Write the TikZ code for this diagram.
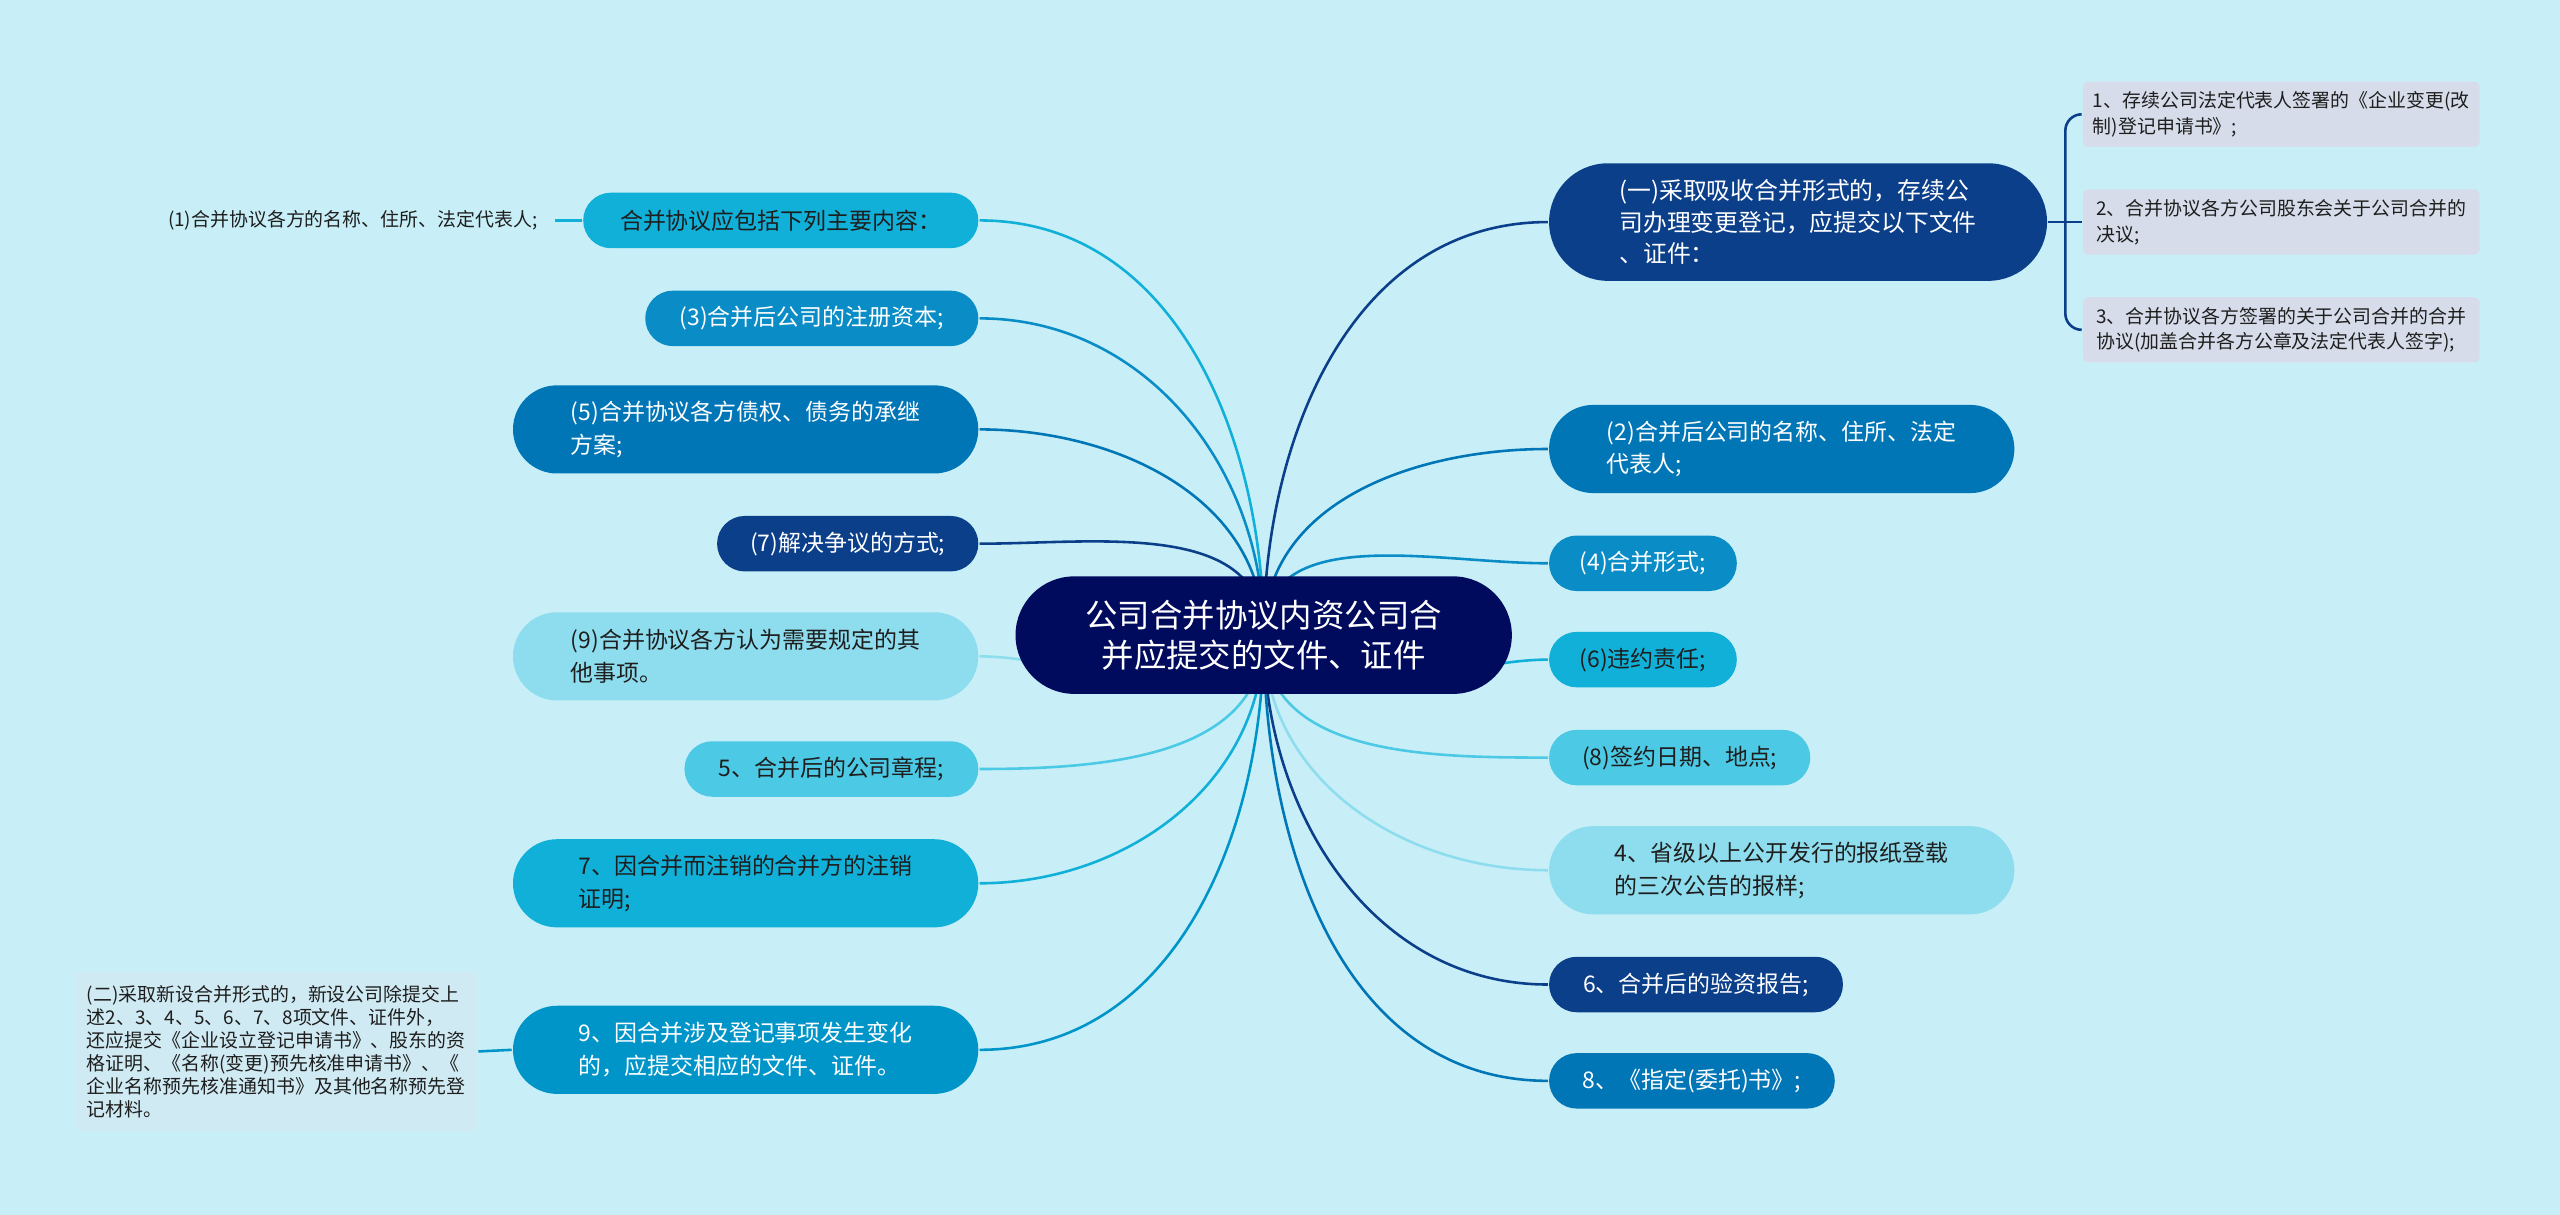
\documentclass[tikz,border=0pt]{standalone}
\usepackage{fontspec}
\setmainfont{Noto Sans CJK SC}
\usetikzlibrary{backgrounds}
\definecolor{cbg}{HTML}{C8EFF7}
\definecolor{croot}{HTML}{000B5E}
\definecolor{cnavy}{HTML}{0B3F8A}
\definecolor{cblue}{HTML}{0076B7}
\definecolor{cmid}{HTML}{0A8CC6}
\definecolor{csea}{HTML}{0095C9}
\definecolor{ccyan}{HTML}{10B0D8}
\definecolor{clight}{HTML}{4CC9E4}
\definecolor{cpale}{HTML}{8EDDEE}
\definecolor{cnote}{HTML}{D0EAF3}
\definecolor{cleaf}{HTML}{D6DCE9}
\definecolor{ctext}{HTML}{1E1E1E}
\tikzset{
  every picture/.style={line width=0.9pt},
  topic/.style={fill=#1, text=white, rounded corners=0.34cm, minimum height=0.68cm, inner xsep=0.3cm, align=left, font=\fontsize{8}{11.4}\selectfont},
  tall/.style={rounded corners=0.54cm, minimum height=1.08cm},
  dark/.style={text=ctext},
  leaf/.style={fill=#1, text=ctext, rounded corners=2pt, align=left, inner xsep=0.12cm, font=\fontsize{6.6}{9}\selectfont},
  link/.style={draw=#1, line width=0.9pt},
}

\begin{document}
\begin{tikzpicture}
  \useasboundingbox (0,0) rectangle (31.36,-14.88);
  \node[topic=croot, rounded corners=0.72cm, minimum width=6.08cm, minimum height=1.44cm, align=center, font=\fontsize{11.3}{14.2}\selectfont] (root) at (15.48,-7.78) {公司合并协议内资公司合\\并应提交的文件、证件};
  % right side
  \node[topic=cnavy, minimum width=6.1cm, minimum height=1.44cm, rounded corners=0.72cm, font=\fontsize{8.3}{11}\selectfont, anchor=west] (absorb) at (18.96,-2.72) {(一)采取吸收合并形式的，存续公\\司办理变更登记，应提交以下文件\\、证件：};
  \node[topic=cblue, tall, minimum width=5.7cm, anchor=west] (name) at (18.96,-5.5) {(2)合并后公司的名称、住所、法定\\代表人;};
  \node[topic=cmid, minimum width=2.3cm, anchor=west] (form) at (18.96,-6.9) {(4)合并形式;};
  \node[topic=ccyan, dark, minimum width=2.3cm, anchor=west] (breach) at (18.96,-8.08) {(6)违约责任;};
  \node[topic=clight, dark, minimum width=3.2cm, anchor=west] (sign) at (18.96,-9.28) {(8)签约日期、地点;};
  \node[topic=cpale, dark, tall, minimum width=5.7cm, anchor=west] (paper) at (18.96,-10.66) {4、省级以上公开发行的报纸登载\\的三次公告的报样;};
  \node[topic=cnavy, minimum width=3.6cm, anchor=west] (audit) at (18.96,-12.06) {6、合并后的验资报告;};
  \node[topic=cblue, minimum width=3.5cm, anchor=west] (proxy) at (18.96,-13.24) {8、《指定(委托)书》;};
  \node[leaf=cleaf, minimum width=4.86cm, minimum height=0.8cm, anchor=west] (app) at (25.5,-1.4) {1、存续公司法定代表人签署的《企业变更(改\\制)登记申请书》;};
  \node[leaf=cleaf, minimum width=4.86cm, minimum height=0.8cm, anchor=west] (resol) at (25.5,-2.72) {2、合并协议各方公司股东会关于公司合并的\\决议;};
  \node[leaf=cleaf, minimum width=4.86cm, minimum height=0.8cm, anchor=west] (agree) at (25.5,-4.04) {3、合并协议各方签署的关于公司合并的合并\\协议(加盖合并各方公章及法定代表人签字);};
  \coordinate (jn) at (25.3,-2.72);
  % left side
  \node[topic=ccyan, dark, minimum width=4.84cm, anchor=east] (content) at (12,-2.7) {合并协议应包括下列主要内容：};
  \node[topic=cmid, minimum width=4.08cm, anchor=east] (capital) at (12,-3.9) {(3)合并后公司的注册资本;};
  \node[topic=cblue, tall, minimum width=5.7cm, anchor=east] (debt) at (12,-5.26) {(5)合并协议各方债权、债务的承继\\方案;};
  \node[topic=cnavy, minimum width=3.2cm, anchor=east] (dispute) at (12,-6.66) {(7)解决争议的方式;};
  \node[topic=cpale, dark, tall, minimum width=5.7cm, anchor=east] (other) at (12,-8.04) {(9)合并协议各方认为需要规定的其\\他事项。};
  \node[topic=clight, dark, minimum width=3.6cm, anchor=east] (charter) at (12,-9.42) {5、合并后的公司章程;};
  \node[topic=ccyan, dark, tall, minimum width=5.7cm, anchor=east] (cancel) at (12,-10.82) {7、因合并而注销的合并方的注销\\证明;};
  \node[topic=csea, tall, minimum width=5.7cm, anchor=east] (change) at (12,-12.86) {9、因合并涉及登记事项发生变化\\的，应提交相应的文件、证件。};
  \node[text=ctext, inner xsep=0.2cm, font=\fontsize{6.6}{9}\selectfont, anchor=east] (item1) at (6.8,-2.7) {(1)合并协议各方的名称、住所、法定代表人;};
  \node[leaf=cnote, inner sep=0.14cm, minimum width=4.86cm, minimum height=1.96cm, font=\fontsize{6.6}{8}\selectfont, anchor=east] (newco) at (5.86,-12.88) {(二)采取新设合并形式的，新设公司除提交上\\述2、3、4、5、6、7、8项文件、证件外，\\还应提交《企业设立登记申请书》、股东的资\\格证明、《名称(变更)预先核准申请书》、《\\企业名称预先核准通知书》及其他名称预先登\\记材料。};
  \begin{scope}[on background layer]
    \fill[cbg] (0,0) rectangle (31.36,-14.88);
    \draw[link=cnavy] (root.center) to[out=90, in=180] (absorb.west);
    \draw[link=cblue] (root.center) to[out=90, in=180] (name.west);
    \draw[link=cmid] (root.center) to[out=90, in=180] (form.west);
    \draw[link=ccyan] (root.center) to[out=-90, in=180] (breach.west);
    \draw[link=clight] (root.center) to[out=-90, in=180] (sign.west);
    \draw[link=cpale] (root.center) to[out=-90, in=180] (paper.west);
    \draw[link=cnavy] (root.center) to[out=-90, in=180] (audit.west);
    \draw[link=cblue] (root.center) to[out=-90, in=180] (proxy.west);
    \draw[link=ccyan] (root.center) to[out=90, in=0] (content.east);
    \draw[link=cmid] (root.center) to[out=90, in=0] (capital.east);
    \draw[link=cblue] (root.center) to[out=90, in=0] (debt.east);
    \draw[link=cnavy] (root.center) to[out=90, in=0] (dispute.east);
    \draw[link=cpale] (root.center) to[out=-90, in=0] (other.east);
    \draw[link=clight] (root.center) to[out=-90, in=0] (charter.east);
    \draw[link=ccyan] (root.center) to[out=-90, in=0] (cancel.east);
    \draw[link=csea] (root.center) to[out=-90, in=0] (change.east);
    \draw[link=ccyan] (content.west) -- (item1.east);
    \draw[link=csea] (change.west) -- (newco.east);
    \draw[link=cnavy] (absorb.east) -- (jn) -- (resol.west);
    \draw[link=cnavy, rounded corners=0.2cm] (jn) |- (app.west);
    \draw[link=cnavy, rounded corners=0.2cm] (jn) |- (agree.west);
  \end{scope}
\end{tikzpicture}
\end{document}
